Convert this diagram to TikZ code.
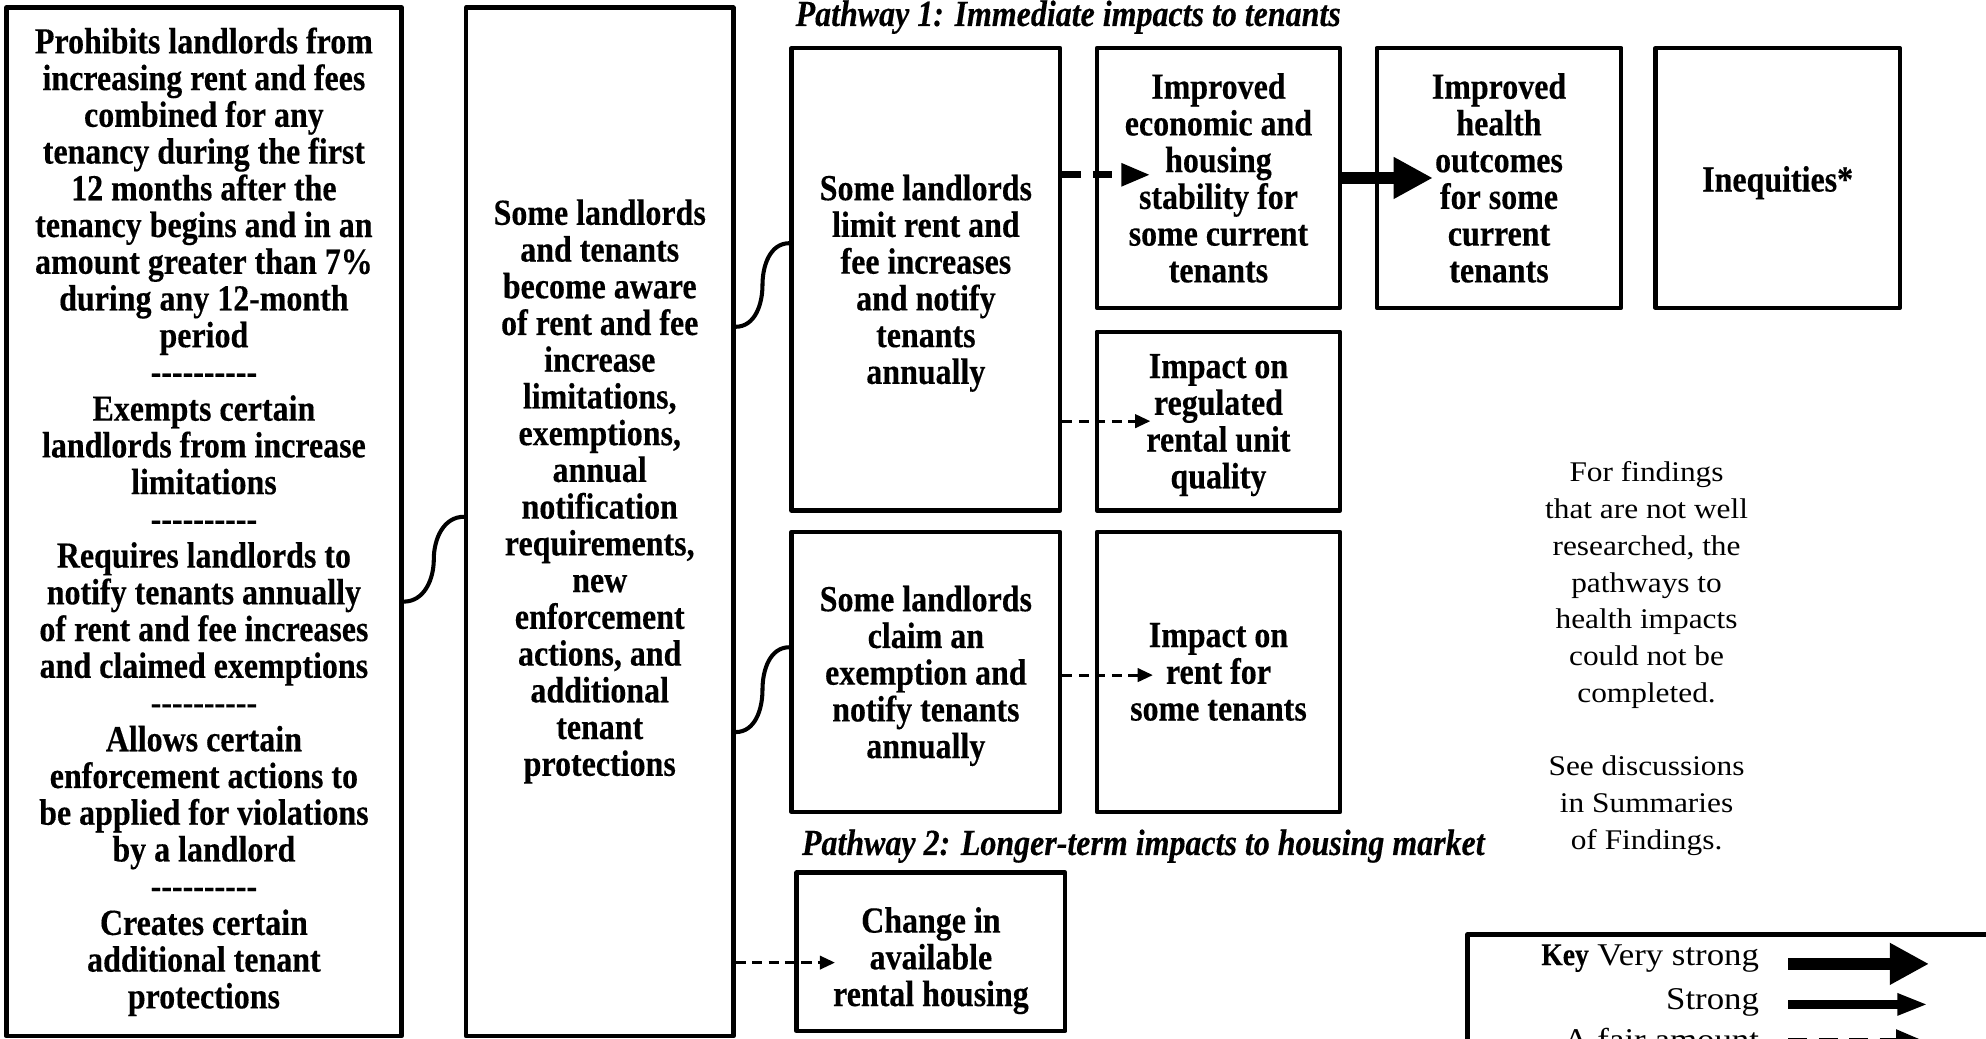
\documentclass[tikz,border=0pt]{standalone}
\usepackage{fontspec}
\setmainfont{Liberation Serif}[BoldFeatures={FakeStretch=0.87,FakeBold=0.3},BoldItalicFeatures={FakeStretch=0.87,FakeBold=0.3}]
\newfontfamily\regwide{Liberation Serif}[FakeStretch=1.1]
\usetikzlibrary{arrows.meta,calc}
\newcommand\btxt{\fontsize{29}{29}\selectfont\bfseries}
\newcommand\pwtxt{\fontsize{29}{29}\selectfont\bfseries\itshape}
\newcommand\notetxt{\regwide\fontsize{22.5}{29}\selectfont}
\newcommand\ktxt{\regwide\fontsize{25}{29}\selectfont}
\newcommand\dashrow{-\kern0pt-\kern0pt-\kern0pt-\kern0pt-\kern0pt-\kern0pt-\kern0pt-\kern0pt-\kern0pt-}
\newcommand\tallstrut{\rule{0pt}{27.6pt}}
\tikzset{
  box/.style={draw, line width=3.5pt, line join=round, inner sep=0pt, align=center, font=\btxt},
  btext/.style={inner sep=0pt, align=center, font=\btxt},
  scurve/.style={line width=3.2pt},
  thinarrow/.style={line width=2.4pt, dash pattern=on 8pt off 5pt, -{Triangle[length=12pt,width=10.5pt]}},
  fairarrow/.style={line width=5.5pt, dash pattern=on 15pt off 9pt, -{Triangle[length=23pt,width=17pt]}},
  vstrongarrow/.style={line width=10pt, -{Triangle[length=31pt,width=31pt]}},
  strongarrow/.style={line width=7pt, -{Triangle[length=24pt,width=16pt]}},
  keylabel/.style={anchor=base east, inner sep=0pt, font=\ktxt},
  pwlabel/.style={anchor=base west, inner sep=0pt, font=\pwtxt},
}
\begin{document}
\begin{tikzpicture}[x=1pt,y=1pt]
\useasboundingbox (0,0) rectangle (1568,-820);
\clip (0,0) rectangle (1568,-820);
\fill[white] (0,0) rectangle (1568,-820);

% policy box
\node[box, minimum width=312pt, minimum height=812pt] (policy) at (161,-412) {Prohibits landlords from\\increasing rent and fees\\combined for any\\tenancy during the first\\12 months after the\\tenancy begins and in an\\amount greater than 7\%\\during any 12-month\\period\\\dashrow\\Exempts certain\\landlords from increase\\limitations\\\dashrow\\Requires landlords to\\notify tenants annually\\of rent and fee increases\\and claimed exemptions\\\dashrow\\Allows certain\\enforcement actions to\\be applied for violations\\by a landlord\\\dashrow\\Creates certain\\additional tenant\\protections};

% awareness box
\node[box, minimum width=211pt, minimum height=812pt] (aware) at (473.5,-412) {};
\node[btext] (awaretext) at (473.5,-388) {Some landlords\\and tenants\\become aware\\of rent and fee\\increase\\limitations,\\exemptions,\\annual\\notification\\requirements,\\new\\enforcement\\actions, and\\additional\\tenant\\protections};

% pathway 1
\node[pwlabel] (p1) at (628,-20.5) {Pathway 1: Immediate impacts to tenants};
\node[box, minimum width=212pt, minimum height=365pt] (limit) at (731,-220.5) {Some landlords\\limit rent and\\fee increases\\and notify\\tenants\\\smash{annually}};
\node[box, minimum width=192pt, minimum height=205pt] (econ) at (962,-140.5) {Improved\\economic and\\housing\\stability for\\some current\\tenants};
\node[box, minimum width=193pt, minimum height=205pt] (health) at (1183.5,-140.5) {Improved\\health\\outcomes\\for some\\current\\tenants};
\node[box, minimum width=193pt, minimum height=205pt] (ineq) at (1403.5,-140.5) {\tallstrut Inequities*};
\node[box, minimum width=192pt, minimum height=141pt] (reg) at (962,-332.5) {Impact on\\regulated\\rental unit\\\smash{quality}};
\node[box, minimum width=212pt, minimum height=221pt] (claim) at (731,-530.5) {Some landlords\\claim an\\exemption and\\notify tenants\\\smash{annually}};
\node[box, minimum width=192pt, minimum height=221pt] (rent) at (962,-530.5) {Impact on\\rent for\\some tenants};

% pathway 2
\node[pwlabel] (p2) at (633,-675) {Pathway 2: Longer-term impacts to housing market};
\node[box, minimum width=212pt, minimum height=125pt] (change) at (735,-751.5) {\tallstrut Change in\\available\\\smash{rental housing}};

% note
\node[inner sep=0pt, align=center, font=\notetxt] (note) at (1300,-520) {For findings\\that are not well\\researched, the\\pathways to\\health impacts\\could not be\\completed.\\[29pt]See discussions\\in Summaries\\of Findings.};

% s-curves
\coordinate (s1a) at ([yshift=-63pt]policy.east);
\coordinate (s1b) at ([yshift=4pt]aware.west);
\draw[scurve] (s1a) to[out=0,in=-90] ($(s1a)!0.5!(s1b)$) to[out=90,in=180] (s1b);
\coordinate (s2a) at ([yshift=154pt]aware.east);
\coordinate (s2b) at ([yshift=28.5pt]limit.west);
\draw[scurve] (s2a) to[out=0,in=-90] ($(s2a)!0.5!(s2b)$) to[out=90,in=180] (s2b);
\coordinate (s3a) at ([yshift=-166pt]aware.east);
\coordinate (s3b) at ([yshift=19.5pt]claim.west);
\draw[scurve] (s3a) to[out=0,in=-90] ($(s3a)!0.5!(s3b)$) to[out=90,in=180] (s3b);

% arrows
\draw[fairarrow] ($(limit.east |- econ.west)+(0,2.5)$) -- ($(econ.west)+(44,2.5)$);
\draw[vstrongarrow] (econ.east) -- ($(health.west)+(46,0)$);
\draw[thinarrow] (limit.east |- reg.west) -- ($(reg.west)+(44,0)$);
\draw[thinarrow] ($(claim.east |- rent.west)+(0,-2.5)$) -- ($(rent.west)+(46,-2.5)$);
\draw[thinarrow] ($(aware.east |- change.west)+(0,-8.5)$) -- ($(change.west)+(32,-8.5)$);

% key
\node[draw, line width=3.5pt, line join=round, minimum width=440pt, minimum height=110pt, anchor=north west] (key) at (1157,-736) {};
\node[keylabel] (k1) at (1389,-762) {{\rmfamily\bfseries Key} Very strong};
\node[keylabel] (k2) at (1389,-797) {Strong};
\node[keylabel] (k3) at (1389,-829) {A fair amount};
\coordinate (k1s) at (1412,-761);
\coordinate (k1e) at (1523,-761);
\coordinate (k2s) at (1412,-793);
\coordinate (k2e) at (1522,-793);
\coordinate (k3s) at (1412,-822);
\coordinate (k3e) at (1520,-822);
\draw[vstrongarrow] (k1s) -- (k1e);
\draw[strongarrow] (k2s) -- (k2e);
\draw[fairarrow] (k3s) -- (k3e);
\end{tikzpicture}
\end{document}
